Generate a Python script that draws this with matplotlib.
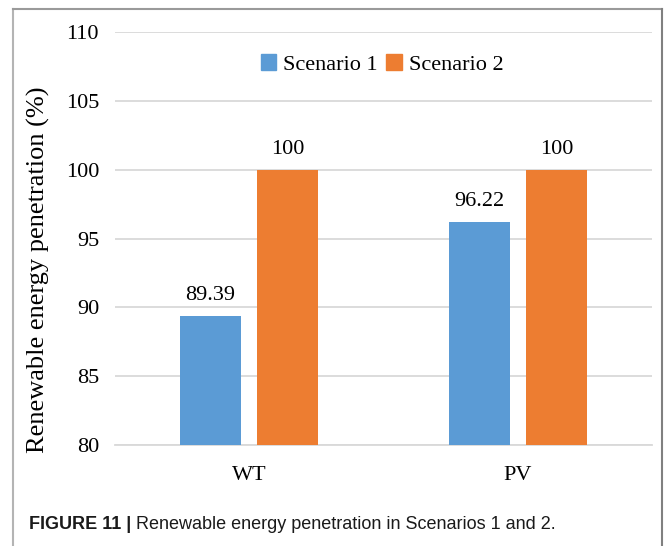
import matplotlib
matplotlib.use("Agg")
import matplotlib.pyplot as plt
from matplotlib.lines import Line2D
from matplotlib.patches import Patch
import numpy as np

categories = ["WT", "PV"]
scenario1 = [89.39, 96.22]
scenario2 = [100, 100]
labels1 = ["89.39", "96.22"]
labels2 = ["100", "100"]
series_names = ["Scenario 1", "Scenario 2"]
yticks = [80, 85, 90, 95, 100, 105, 110]

BLUE = "#5B9BD5"
ORANGE = "#ED7D31"
GRID = "#D9D9D9"
serif = ["Liberation Serif", "DejaVu Serif"]
sans = ["Liberation Sans", "DejaVu Sans"]
FS = 16

W, H = 665, 546
fig = plt.figure(figsize=(W / 100, H / 100), dpi=100)
ax = fig.add_axes([115 / W, 1 - 445 / H, (652 - 115) / W, (445 - 32) / H])

x = np.arange(len(categories))
width = 0.227
off = 0.144
b1 = ax.bar(x - off, scenario1, width, color=BLUE, zorder=3)
b2 = ax.bar(x + off, scenario2, width, color=ORANGE, zorder=3)

for rect, lab in zip(b1, labels1):
    ax.text(rect.get_x() + rect.get_width() / 2, rect.get_height() + 0.75, lab,
            ha="center", va="bottom", fontsize=FS, family=serif, color="#000000")
for rect, lab in zip(b2, labels2):
    ax.text(rect.get_x() + rect.get_width() / 2, rect.get_height() + 0.75, lab,
            ha="center", va="bottom", fontsize=FS, family=serif, color="#000000")

ax.set_ylim(80, 110)
ax.set_xlim(-0.5, 1.5)
ax.set_yticks(yticks)
ax.set_yticklabels([str(t) for t in yticks], family=serif, fontsize=FS)
ax.set_xticks(x)
ax.set_xticklabels(categories, family=serif, fontsize=FS)
ax.tick_params(axis="both", length=0)
ax.tick_params(axis="y", pad=11.5)
ax.tick_params(axis="x", pad=15)
ax.yaxis.grid(True, color=GRID, linewidth=1.3, zorder=0)
ax.set_axisbelow(True)
for s in ["top", "right", "left"]:
    ax.spines[s].set_visible(False)
ax.spines["bottom"].set_color(GRID)
ax.spines["bottom"].set_linewidth(1.3)

ax.set_ylabel("Renewable energy penetration (%)", family=serif, fontsize=19)
ax.yaxis.set_label_coords((38 - 115) / 537, (445 - 270) / 413)
ax.yaxis.label.set_va("center")

handles = [Patch(color=BLUE), Patch(color=ORANGE)]
ax.legend(handles, series_names, loc="upper center", bbox_to_anchor=(0.497, 0.995),
          ncol=2, frameon=False, prop={"family": serif, "size": FS},
          handlelength=0.7, handleheight=0.7, handletextpad=0.3, columnspacing=0.4)

# outer border
fig.add_artist(Line2D([12.5 / W, 12.5 / W], [0, 1 - 9 / H], color="#B4B4B4", lw=1.5))
fig.add_artist(Line2D([12.5 / W, 662 / W], [1 - 9 / H, 1 - 9 / H], color="#9A9A9A", lw=1.5))
fig.add_artist(Line2D([662 / W, 662 / W], [0, 1 - 9 / H], color="#808080", lw=1.5))

# caption
t1 = fig.text(29 / W, 1 - 529 / H, "FIGURE 11 | ", family=sans, fontsize=13,
              fontweight="bold", color="#1a1a1a", va="baseline")
fig.canvas.draw()
bb = t1.get_window_extent()
fig.text(bb.x1 / W, 1 - 529 / H, "Renewable energy penetration in Scenarios 1 and 2.",
         family=sans, fontsize=13, color="#1a1a1a", va="baseline")

fig.savefig("out.png", dpi=100)
